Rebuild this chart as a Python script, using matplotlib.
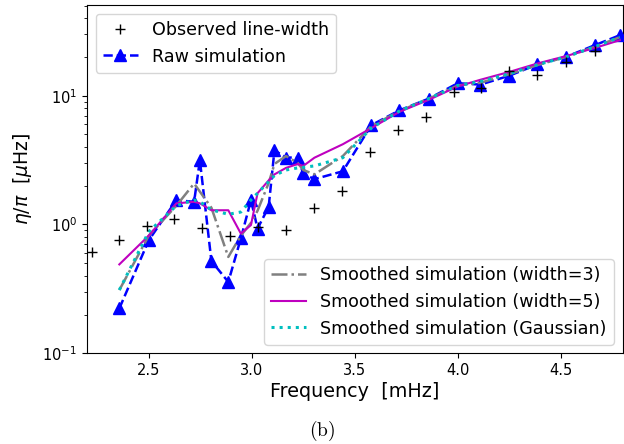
import numpy as np
import matplotlib
matplotlib.use("Agg")
import matplotlib.pyplot as plt

# Observed line-widths
obs_freq = [2.224, 2.357, 2.490, 2.620, 2.758, 2.895, 3.030, 3.166, 3.304, 3.439,
            3.575, 3.711, 3.847, 3.983, 4.115, 4.249, 4.387, 4.525, 4.666]
obs_width = [0.61, 0.755, 0.98, 1.10, 0.94, 0.815, 0.95, 0.90, 1.345, 1.81,
             3.64, 5.40, 6.84, 10.7, 11.5, 15.5, 14.5, 18.2, 22.2]

# Simulation frequencies
sim_freq = [2.357, 2.500, 2.634, 2.720, 2.748, 2.804, 2.886, 2.947, 2.996, 3.028,
            3.082, 3.110, 3.166, 3.223, 3.250, 3.304, 3.442, 3.580, 3.717, 3.860,
            4.000, 4.110, 4.250, 4.387, 4.525, 4.666, 4.787]
raw_sim = [0.223, 0.755, 1.545, 1.50, 3.16, 0.52, 0.358, 0.78, 1.545, 0.93,
           1.37, 3.77, 3.31, 3.31, 2.49, 2.25, 2.59, 5.9, 7.7, 9.5,
           12.5, 12.2, 14.3, 17.5, 20.0, 24.7, 29.5]
smooth3 = [0.31, 0.82, 1.40, 2.08, 1.80, 1.35, 0.56, 0.82, 1.03, 1.28,
           2.10, 2.95, 3.40, 3.00, 2.65, 2.45, 3.40, 5.8, 7.6, 9.5,
           12.0, 12.6, 14.7, 17.3, 20.0, 24.0, 28.5]
smooth5 = [0.49, 0.82, 1.46, 1.50, 1.46, 1.29, 1.29, 0.85, 0.99, 1.75,
           2.20, 2.45, 2.75, 2.95, 2.85, 3.30, 4.20, 5.6, 7.5, 9.3,
           11.8, 13.3, 15.3, 17.8, 20.3, 23.5, 27.0]
smooth_gauss = [0.31, 0.88, 1.40, 1.55, 1.50, 1.30, 1.20, 1.25, 1.55, 1.75,
                2.15, 2.40, 2.65, 2.75, 2.78, 2.85, 3.30, 5.6, 7.6, 9.5,
                12.0, 12.9, 14.8, 17.4, 20.0, 24.0, 28.5]

fig = plt.figure(figsize=(6.24, 4.44), dpi=100)
ax = fig.add_axes([0.1394, 0.2043, 0.8583, 0.7844])

h_obs, = ax.plot(obs_freq, obs_width, '+', color='k', markersize=7,
                 label='Observed line-width', clip_on=False, zorder=5)
h_raw, = ax.plot(sim_freq, raw_sim, '--^', color='b', markersize=8,
                 lw=1.8, label='Raw simulation', zorder=3)
h3, = ax.plot(sim_freq, smooth3, '-.', color='gray', lw=1.8,
              label='Smoothed simulation (width=3)', zorder=4)
h5, = ax.plot(sim_freq, smooth5, '-', color='m', lw=1.5,
              label='Smoothed simulation (width=5)', zorder=4)
hg, = ax.plot(sim_freq, smooth_gauss, ':', color='c', lw=2.2,
              label='Smoothed simulation (Gaussian)', zorder=4)

ax.set_yscale('log')
ax.set_xlim(2.2, 4.8)
ax.set_ylim(0.1, 50.6)
ax.set_xticks([2.5, 3.0, 3.5, 4.0, 4.5])
ax.tick_params(axis='both', labelsize=10.5)
ax.set_xlabel('Frequency  [mHz]', fontsize=13.8, labelpad=3)
ax.set_ylabel(r'$\eta/\pi$  [$\mu$Hz]', fontsize=13.5, labelpad=6)

leg1 = ax.legend(handles=[h_obs, h_raw], loc='upper left', fontsize=12.6)
ax.add_artist(leg1)
ax.legend(handles=[h3, h5, hg], loc='lower right', fontsize=12.6)

plt.rcParams['mathtext.fontset'] = 'cm'
fig.text(0.516, 0.03, r'$\mathrm{(b)}$', ha='center', va='center', fontsize=14)

fig.savefig('out.png', dpi=100)
